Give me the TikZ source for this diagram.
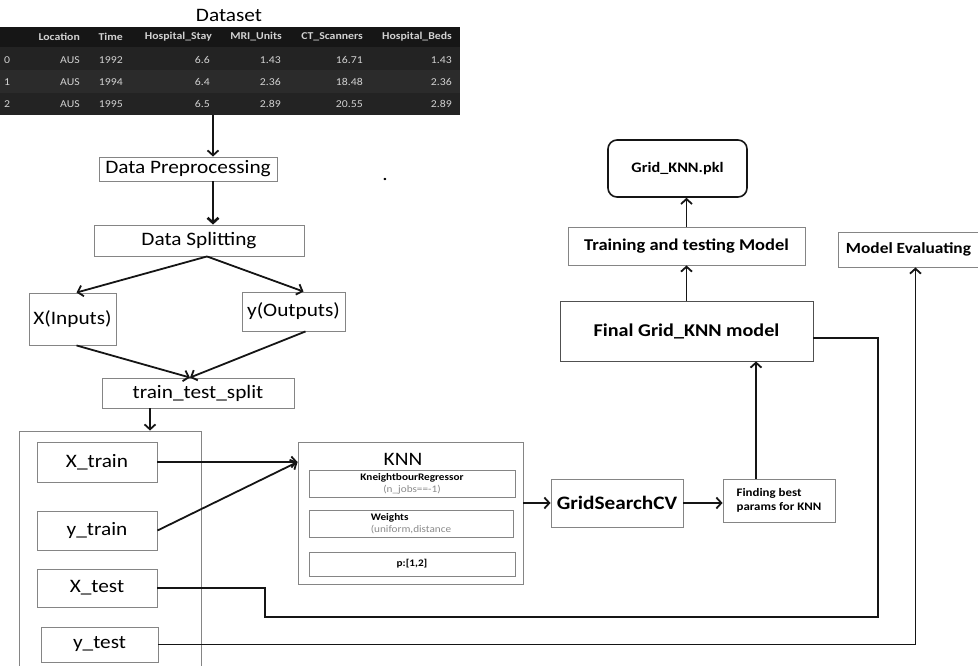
\documentclass[tikz,border=0pt]{standalone}
\usepackage{fontspec}
\setmainfont{Carlito}[FakeStretch=1.12]
\usetikzlibrary{arrows.meta}
\definecolor{edge}{HTML}{858585}
\definecolor{ink}{HTML}{151515}
\definecolor{tabbg}{HTML}{232323}
\definecolor{tabhd}{HTML}{161616}
\definecolor{tabrw}{HTML}{2B2B2B}
\definecolor{tabtx}{HTML}{D2D2D2}
\definecolor{subtx}{HTML}{8A8A8A}

\begin{document}
\begin{tikzpicture}[x=1pt,y=-1pt,>={Straight Barb[length=5pt,width=11pt]},
 n/.style={draw=edge,line width=.9pt,inner sep=0pt,font=\fontsize{19}{22}\selectfont},
 nb/.style={n,font=\fontsize{16.5}{19}\selectfont\bfseries},
 sb/.style={draw=edge,line width=.9pt,inner sep=0pt,align=center,font=\fontsize{10}{12}\selectfont},
 a/.style={->,draw=ink,line width=1.8pt},
 l/.style={draw=ink,line width=1.8pt},
 hd/.style={anchor=east,text=tabtx,inner sep=0pt,font=\fontsize{10.5}{12}\selectfont\bfseries},
 cell/.style={anchor=east,text=tabtx,inner sep=0pt,font=\fontsize{10.5}{12}\selectfont}]
\useasboundingbox (0,0) rectangle (978,665);
% dataset table
\node[font=\fontsize{19}{22}\selectfont] (title) at (229,15) {Dataset};
\node[fill=tabbg,minimum width=460pt,minimum height=88pt,inner sep=0pt] (tab) at (230,71) {};
\fill[tabhd] (tab.north west) rectangle ([yshift=-20pt]tab.north east);
\fill[tabrw] (0,70) rectangle (460,93);
\foreach \t/\x in {Location/80,Time/123,Hospital\_Stay/212,MRI\_Units/282,CT\_Scanners/363,Hospital\_Beds/452}
  \node[hd] at (\x,37) {\t};
\foreach \i/\y/\yr/\hs/\mr/\ct/\hb in {0/60/1992/6.6/1.43/16.71/1.43,1/82/1994/6.4/2.36/18.48/2.36,2/104/1995/6.5/2.89/20.55/2.89}{
  \node[cell,anchor=west] at (4,\y) {\i};
  \node[cell] at (80,\y) {AUS};
  \node[cell] at (123,\y) {\yr};
  \node[cell] at (210,\y) {\hs};
  \node[cell] at (281,\y) {\mr};
  \node[cell] at (363,\y) {\ct};
  \node[cell] at (452,\y) {\hb};
}
\coordinate (spine) at (213,115);
% left column
\node[n,minimum width=178pt,minimum height=24pt] (prep) at (188,169) {Data Preprocessing};
\node[n,minimum width=210pt,minimum height=31pt] (split) at (199,240.5) {Data Splitting};
\node[n,minimum width=87pt,minimum height=52pt] (xin) at (72.5,319) {X(Inputs)};
\node[n,minimum width=103pt,minimum height=39pt] (yout) at (293.5,311.5) {y(Outputs)};
\node[n,minimum width=192pt,minimum height=30pt] (tts) at (198,393) {train\_test\_split};
\node[font=\fontsize{19}{22}\selectfont] (dot) at (385,179) {.};
\node[n,minimum width=182pt,minimum height=249pt] (sets) at (110,555.5) {};
\node[n,minimum width=120pt,minimum height=40pt] (xtrain) at (97,462) {X\_train};
\node[n,minimum width=120pt,minimum height=39pt] (ytrain) at (97,530.5) {y\_train};
\node[n,minimum width=120pt,minimum height=38pt] (xtest) at (97,588) {X\_test};
\node[n,minimum width=117pt,minimum height=35pt] (ytest) at (99.5,644.5) {y\_test};
% model search
\node[n,minimum width=225pt,minimum height=142pt] (knn) at (410.5,513) {};
\node[font=\fontsize{19}{22}\selectfont] (knnlbl) at (403,459) {KNN};
\node[sb,minimum width=206pt,minimum height=27pt] (regr) at (412,483.5) {\textbf{KneightbourRegressor}\\\textcolor{subtx}{(n\_jobs==-1)}};
\node[sb,minimum width=204pt,minimum height=27pt,align=left] (wts) at (411,523.5) {\textbf{Weights}\\\textcolor{subtx}{(uniform,distance}};
\node[sb,minimum width=206pt,minimum height=24pt] (pval) at (412,564) {\textbf{p:[1,2]}};
\node[n,minimum width=132pt,minimum height=48pt,font=\fontsize{19}{22}\selectfont\bfseries] (gs) at (617,503) {GridSearchCV};
\node[n,minimum width=112pt,minimum height=43pt,align=left,font=\fontsize{11.5}{14}\selectfont\bfseries] (find) at (779,500.5) {Finding best\\params for KNN};
\node[n,draw=ink!75,minimum width=253pt,minimum height=60pt,font=\fontsize{18}{21}\selectfont\bfseries] (final) at (686.5,331) {Final Grid\_KNN model};
\node[nb,minimum width=237pt,minimum height=38pt] (train) at (686.5,246) {Training and testing Model};
\node[nb,draw=ink,line width=1.6pt,rounded corners=9pt,minimum width=139pt,minimum height=57pt,font=\fontsize{14.5}{17}\selectfont\bfseries] (pkl) at (677.5,168.5) {Grid\_KNN.pkl};
\node[nb,anchor=west,minimum width=140pt,minimum height=35pt,font=\fontsize{15.5}{18}\selectfont\bfseries] (eval) at (838,249.5) {Model Evaluating};
% connectors
\draw[a] (spine) -- (spine |- prep.north);
\draw[a,line width=2.6pt] (prep.south -| spine) -- (split.north -| spine);
\draw[a] ([xshift=8pt]split.south) -- ([xshift=4pt]xin.north);
\draw[a] ([xshift=8pt]split.south) -- ([xshift=10pt]yout.north);
\draw[a] ([xshift=4pt]xin.south) -- ([xshift=-8pt]tts.north);
\draw[a] ([xshift=12pt]yout.south) -- ([xshift=-8pt]tts.north);
\draw[a] ([xshift=-48pt]tts.south) -- ([xshift=-48pt]tts.south |- sets.north);
\draw[a] (xtrain.east) -- (xtrain.east -| knn.west);
\draw[a] (ytrain.east) -- (xtrain.east -| knn.west);
\draw[a] (knn.east |- gs.west) -- (gs.west);
\draw[a] (gs.east) -- (gs.east -| find.west);
\draw[a] ([xshift=-23pt]find.north) -- ([xshift=-23pt]find.north |- final.south);
\draw[a] (final.north) -- (train.south);
\draw[a] (train.north) -- (train.north |- pkl.south);
\coordinate (bend1) at (265,617);
\coordinate (bend2) at (878,617);
\draw[l] (xtest.east) -| (bend1) -- (bend2) |- ([yshift=-7pt]final.east);
\draw[a] (ytest.east) -| ([xshift=7pt]eval.south);
\end{tikzpicture}
\end{document}
